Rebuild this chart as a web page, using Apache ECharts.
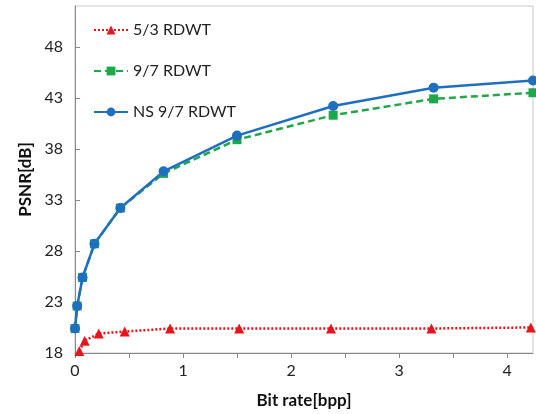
<!DOCTYPE html>
<html>
<head>
<meta charset="utf-8">
<script src="https://cdn.jsdelivr.net/npm/echarts@6/dist/echarts.min.js"></script>
<style>
    html,body{margin:0;padding:0;background:#fff;}
    #chart{width:536px;height:414px;}
</style>
</head>
<body>
<div id="chart"></div>
<script>
// 5/3 RDWT
var rateA = [0.04, 0.09, 0.22, 0.46, 0.88, 1.52, 2.37, 3.30, 4.22];
var psnrA = [18.2, 19.2, 19.9, 20.1, 20.4, 20.4, 20.4, 20.4, 20.5];
// 9/7 RDWT and NS 9/7 RDWT share bit rates
var rateB = [0.0, 0.02, 0.07, 0.18, 0.42, 0.82, 1.50, 2.39, 3.32, 4.24];
var psnrB = [20.4, 22.6, 25.4, 28.7, 32.2, 35.6, 38.9, 41.3, 42.9, 43.5];
var psnrC = [20.4, 22.6, 25.4, 28.7, 32.2, 35.8, 39.3, 42.2, 44.0, 44.7];
var names = ['5/3 RDWT', '9/7 RDWT', 'NS 9/7 RDWT'];

function pairs(xs, ys){
    var out = [];
    for (var i = 0; i < xs.length; i++) out.push([xs[i], ys[i]]);
    return out;
}

var font = 'Lato';
var myChart = echarts.init(document.getElementById('chart'));
myChart.setOption({
    animation: false,
    textStyle: {fontFamily: font},
    grid: {left: 75, right: 3, top: 6, bottom: 58, show: true, borderColor: '#c8c8c8', borderWidth: 1},
    legend: {
        orient: 'vertical',
        left: 88, top: 17,
        itemWidth: 34, itemHeight: 11,
        itemGap: 25,
        textStyle: {fontSize: 16, color: '#222', fontFamily: font},
        data: names
    },
    xAxis: {
        type: 'value', min: 0, max: 4.24, interval: 0.5,
        name: 'Bit rate[bpp]', nameLocation: 'middle', nameGap: 39,
        nameTextStyle: {fontSize: 17, fontWeight: 'bold', color: '#111'},
        axisLine: {lineStyle: {color: '#888'}},
        axisTick: {length: 5, lineStyle: {color: '#888'}},
        axisLabel: {
            fontSize: 16, color: '#222', margin: 10, showMaxLabel: false,
            formatter: function(v){ return (v % 1 === 0) ? String(v) : ''; }
        },
        splitLine: {show: false}
    },
    yAxis: {
        type: 'value', min: 18, max: 52, interval: 5,
        name: 'PSNR[dB]', nameLocation: 'middle', nameGap: 36, nameRotate: 90,
        nameTextStyle: {fontSize: 17, fontWeight: 'bold', color: '#111'},
        axisLine: {show: true, lineStyle: {color: '#888'}},
        axisTick: {show: true, inside: true, length: 5, lineStyle: {color: '#888'}},
        axisLabel: {fontSize: 16, color: '#222', margin: 12, showMaxLabel: false},
        splitLine: {show: false}
    },
    series: [
        {
            name: names[0], type: 'line', data: pairs(rateA, psnrA),
            symbol: 'triangle', symbolSize: 10,
            itemStyle: {color: '#e8141b'},
            lineStyle: {color: '#e8141b', width: 2.5, type: [2, 2]}
        },
        {
            name: names[1], type: 'line', data: pairs(rateB, psnrB),
            symbol: 'rect', symbolSize: 9,
            itemStyle: {color: '#1ea84a'},
            lineStyle: {color: '#1ea84a', width: 2.5, type: [7, 4]}
        },
        {
            name: names[2], type: 'line', data: pairs(rateB, psnrC),
            symbol: 'circle', symbolSize: 10,
            itemStyle: {color: '#1f6fc0'},
            lineStyle: {color: '#1f6fc0', width: 2.5}
        }
    ]
});
</script>
</body>
</html>
